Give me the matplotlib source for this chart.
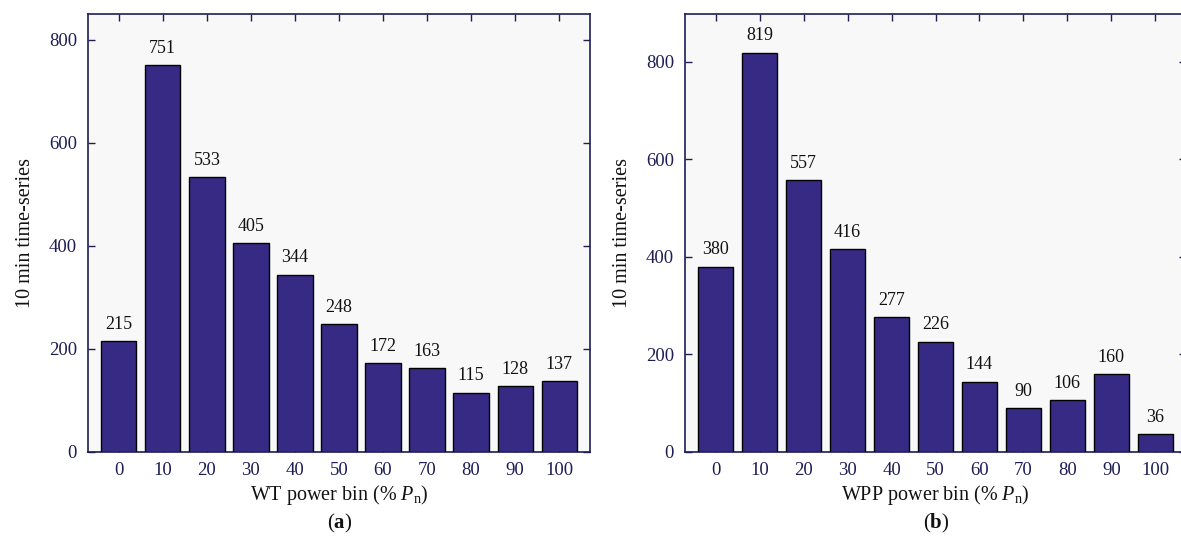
import matplotlib
matplotlib.use("Agg")
import matplotlib.pyplot as plt
import numpy as np

plt.rcParams['font.family'] = ['Liberation Serif', 'DejaVu Serif']
plt.rcParams['mathtext.fontset'] = 'custom'
plt.rcParams['mathtext.rm'] = 'Liberation Serif'
plt.rcParams['mathtext.it'] = 'Liberation Serif:italic'
plt.rcParams['mathtext.bf'] = 'Liberation Serif:bold'

bins = [0, 10, 20, 30, 40, 50, 60, 70, 80, 90, 100]
wt_counts = [215, 751, 533, 405, 344, 248, 172, 163, 115, 128, 137]
wpp_counts = [380, 819, 557, 416, 277, 226, 144, 90, 106, 160, 36]
yticks = [0, 200, 400, 600, 800]

W, H = 1181, 548
fig = plt.figure(figsize=(W / 100, H / 100), dpi=100)

bar_color = '#372A84'
spine_color = '#1E1E55'
tick_color = '#1E1E55'

def make_panel(rect, counts, ylim, xlabel, caption, cap_x):
    ax = fig.add_axes(rect)
    ax.set_facecolor('#F8F8F8')
    x = np.arange(len(bins))
    ax.bar(x, counts, width=0.8, color=bar_color, edgecolor='black', linewidth=1.0, zorder=3)
    for xi, v in zip(x, counts):
        ax.annotate(str(v), (xi, v), xytext=(0, 6), textcoords='offset points',
                    ha='center', va='bottom', fontsize=13, color='#111111')
    ax.set_xlim(-0.7, 10.7)
    ax.set_ylim(*ylim)
    ax.set_xticks(x)
    ax.set_xticklabels([str(b) for b in bins])
    ax.set_yticks(yticks)
    ax.tick_params(direction='in', length=5, width=1.0, colors=tick_color,
                   labelsize=13.5, top=True, right=True, pad=7)
    ax.tick_params(axis='y', pad=8)
    for s in ax.spines.values():
        s.set_color(spine_color)
        s.set_linewidth(1.2)
    ax.set_xlabel(xlabel, fontsize=14.5, color='#111111', labelpad=3)
    ax.set_ylabel('10 min time-series', fontsize=14.5, color='#111111', labelpad=10)
    fig.text(cap_x, 1 - 523 / H, caption, ha='center', va='center', fontsize=15, color='#111111')
    return ax

make_panel([88 / W, 1 - 452 / H, (590 - 88) / W, (452 - 14) / H], wt_counts, (0, 850),
           'WT power bin (% $P_{\\mathrm{n}}$)', '($\\mathbf{a}$)', 340 / W)
make_panel([685 / W, 1 - 452 / H, (1186 - 685) / W, (452 - 14) / H], wpp_counts, (0, 898),
           'WPP power bin (% $P_{\\mathrm{n}}$)', '($\\mathbf{b}$)', 936 / W)

fig.savefig('out.png', dpi=100)
